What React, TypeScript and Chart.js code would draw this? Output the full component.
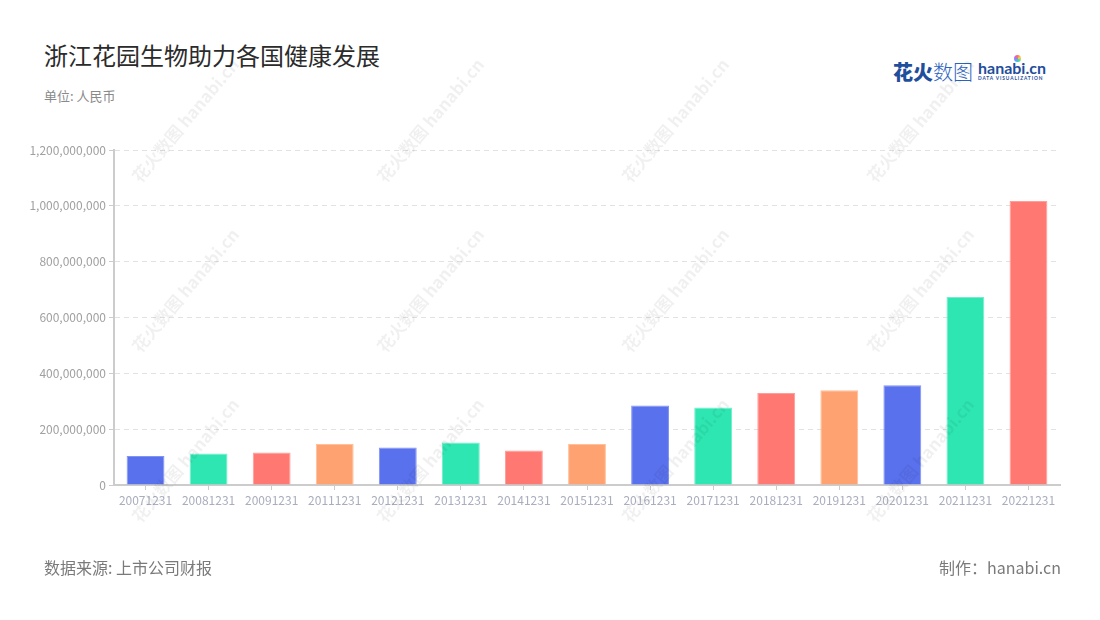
import React, { useEffect, useRef } from "react";
import { Chart, registerables } from "chart.js";

Chart.register(...registerables);

const categories = [
  "20071231", "20081231", "20091231", "20111231", "20121231", "20131231", "20141231", "20151231",
  "20161231", "20171231", "20181231", "20191231", "20201231", "20211231", "20221231",
];
const values = [
  104e6, 113e6, 116e6, 147e6, 134e6, 152e6, 124e6, 147e6,
  285e6, 278e6, 330e6, 339e6, 357e6, 673e6, 1017e6,
];
const yMax = 1200e6;
const yStep = 200e6;
const palette = ["#5A71EE", "#2EE6B1", "#FF7871", "#FFA271"];
const paletteBorder = ["#8193F2", "#74EDCB", "#FF9E98", "#FFBF98"];

const FONT = "'Noto Sans CJK SC', 'Noto Sans', sans-serif";

const watermarkCols = [185, 430, 675, 920];
const watermarkRows = [120, 290, 460];

export default function App() {
  const ref = useRef<HTMLCanvasElement | null>(null);

  useEffect(() => {
    document.body.style.margin = "0";
    const canvas = ref.current!;
    const chart = new Chart(canvas, {
      type: "bar",
      data: {
        labels: categories,
        datasets: [
          {
            data: values,
            backgroundColor: categories.map((_, i) => palette[i % 4]),
            borderColor: categories.map((_, i) => paletteBorder[i % 4]),
            borderWidth: 1,
            barPercentage: 0.6,
            categoryPercentage: 1,
          },
        ],
      },
      options: {
        animation: false,
        responsive: false,
        devicePixelRatio: 1,
        layout: { padding: { left: 0, right: 40, top: 150, bottom: 105 } },
        plugins: { legend: { display: false }, tooltip: { enabled: false }, title: { display: false } },
        scales: {
          x: {
            afterFit: (s: any) => {
              s.height = 30;
            },
            grid: {
              offset: false,
              drawOnChartArea: false,
              drawTicks: true,
              tickLength: 5,
              tickColor: "#cccccc",
              color: "#cccccc",
            },
            border: { display: true, color: "#cccccc", width: 2 },
            ticks: {
              color: "#a9adbd",
              font: { family: FONT, size: 12 },
              padding: 3,
              maxRotation: 0,
              autoSkip: false,
            },
          },
          y: {
            min: 0,
            max: yMax,
            afterFit: (s: any) => {
              s.width = 114;
            },
            grid: {
              color: "#e2e2e2",
              lineWidth: 1,
              drawTicks: true,
              tickLength: 5,
              tickColor: "#cccccc",
              tickBorderDash: [],
            },
            border: { display: true, color: "#cccccc", width: 2, dash: [5, 4] },
            ticks: {
              stepSize: yStep,
              color: "#a0a0a0",
              font: { family: FONT, size: 12 },
              padding: 3,
              callback: (v: any) => Number(v).toLocaleString("en-US"),
            },
          },
        },
      },
    });
    return () => chart.destroy();
  }, []);

  return (
    <div style={{ position: "fixed", left: 0, top: 0, width: 1100, height: 620, background: "#fff", overflow: "hidden", fontFamily: FONT }}>
      <div style={{ position: "absolute", left: 44, top: 38, fontSize: 24, color: "#2b2b2b", lineHeight: "34px", whiteSpace: "nowrap" }}>
        浙江花园生物助力各国健康发展
      </div>
      <div style={{ position: "absolute", left: 44, top: 86, fontSize: 13, color: "#8a8a8a", lineHeight: "20px" }}>
        单位: 人民币
      </div>
      <div style={{ position: "absolute", left: 893, top: 58, display: "flex", alignItems: "center", whiteSpace: "nowrap" }}>
        <span style={{ fontSize: 20, fontWeight: 900, color: "#1f4e9c", lineHeight: "28px" }}>花火</span>
        <span style={{ fontSize: 20, fontWeight: 300, color: "#2a63c0", lineHeight: "28px" }}>数图</span>
        <div style={{ marginLeft: 5, display: "flex", flexDirection: "column" }}>
          <div style={{ fontSize: 16, fontWeight: 700, color: "#1f4e9c", lineHeight: "16px", fontFamily: "Lato, sans-serif", position: "relative" }}>
            hanabi.cn
            <span style={{ position: "absolute", left: 36, top: -5, width: 7, height: 7, borderRadius: 4, background: "conic-gradient(#ff6b6b, #ffd23f, #3ddc97, #4ea8ff, #b86bff, #ff6b6b)" }} />
          </div>
          <div style={{ fontSize: 8, lineHeight: "8px", color: "#1f4e9c", transform: "scale(0.6)", transformOrigin: "left top", letterSpacing: 1.5, fontFamily: "Lato, sans-serif", fontWeight: 700 }}>
            DATA VISUALIZATION
          </div>
        </div>
      </div>
      <canvas ref={ref} width={1100} height={620} style={{ position: "absolute", left: 0, top: 0, width: 1100, height: 620 }} />
      {watermarkCols.map((cx, ci) =>
        watermarkRows.map((cy, ri) => (
          <div
            key={`${ci}-${ri}`}
            style={{
              position: "absolute",
              left: cx - 90,
              top: cy - 12,
              width: 180,
              textAlign: "center",
              transform: "rotate(-50deg)",
              fontSize: 17,
              fontWeight: 700,
              color: "rgba(0,0,0,0.06)",
              whiteSpace: "nowrap",
              pointerEvents: "none",
              lineHeight: "24px",
            }}
          >
            花火数图 hanabi.cn
          </div>
        ))
      )}
      <div style={{ position: "absolute", left: 44, top: 556, fontSize: 16, color: "#7a7a7a", lineHeight: "22px", whiteSpace: "nowrap" }}>
        数据来源: 上市公司财报
      </div>
      <div style={{ position: "absolute", right: 39, top: 556, fontSize: 16, color: "#7a7a7a", lineHeight: "22px", whiteSpace: "nowrap" }}>
        制作：hanabi.cn
      </div>
    </div>
  );
}
